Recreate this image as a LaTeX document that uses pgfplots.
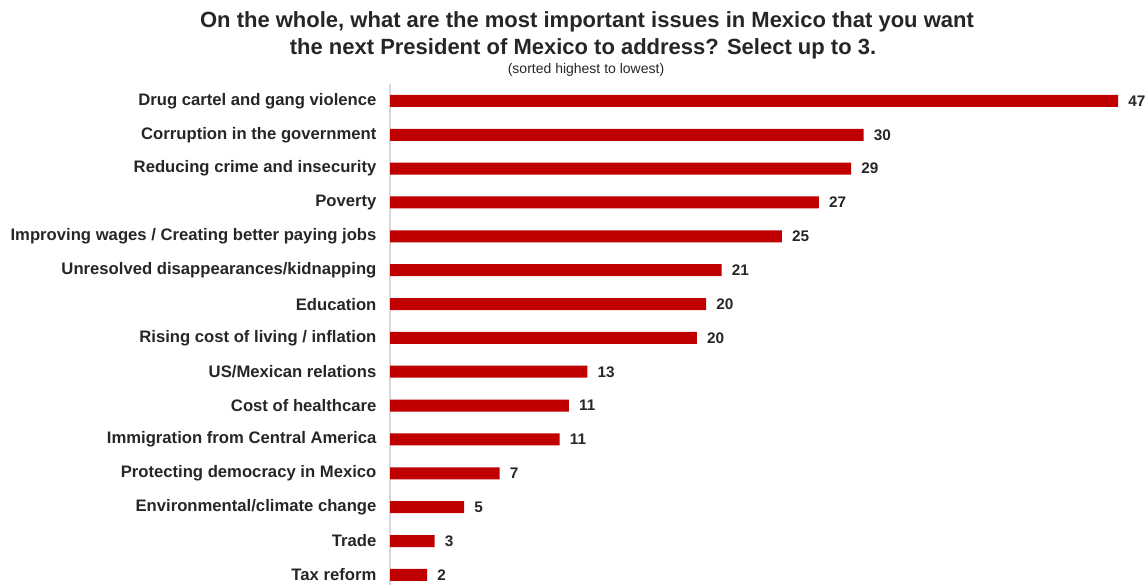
\documentclass[border=0pt]{standalone}
\usepackage{fontspec}
\setmainfont{Liberation Sans}
\usepackage{pgfplots}
\usepackage{pgfplotstable}
\pgfplotsset{compat=1.18}
\definecolor{barred}{HTML}{C00000}
\definecolor{txt}{HTML}{262626}
\pgfplotstableread{
idx val lab
0 47.2 47
1 30.7 30
2 29.9 29
3 27.8 27
4 25.4 25
5 21.5 21
6 20.5 20
7 19.9 20
8 12.8 13
9 11.6 11
10 11.0 11
11 7.1 7
12 4.8 5
13 2.9 3
14 2.4 2
}\datatable
\begin{document}
\begin{tikzpicture}
\useasboundingbox (0,0) rectangle (861pt,440.25pt);
\node[font=\fontsize{16.5}{18}\bfseries\selectfont, text=txt] at (440.25pt,423.75pt) {On the whole, what are the most important issues in Mexico that you want};
\node[font=\fontsize{16.5}{18}\bfseries\selectfont, text=txt] at (437.25pt,403.5pt) {the next President of Mexico to address? Select up to 3.};
\node[font=\fontsize{10.5}{12}\selectfont, text=txt] at (439.5pt,388pt) {(sorted highest to lowest)};
\begin{axis}[
  at={(292.5pt,1.5pt)}, anchor=south west,
  scale only axis, width=546pt, height=375.75pt,
  xbar, bar width=9pt,
  xmin=0, xmax=47.2,
  ymin=-0.5, ymax=14.3, y dir=reverse,
  axis x line=none,
  axis y line=left,
  axis line style={-, draw=black!15, line width=0.8pt},
  major tick length=0pt,
  ytick={0,...,14},
  yticklabels={Drug cartel and gang violence, Corruption in the government, Reducing crime and insecurity, Poverty, Improving wages / Creating better paying jobs, Unresolved disappearances/kidnapping, Education, Rising cost of living / inflation, US/Mexican relations, Cost of healthcare, Immigration from Central America, Protecting democracy in Mexico, Environmental/climate change, Trade, Tax reform},
  yticklabel style={font=\fontsize{12.5}{14}\bfseries\selectfont, text=txt, inner sep=0pt, xshift=-10pt},
  nodes near coords,
  point meta=explicit symbolic,
  nodes near coords style={font=\fontsize{11.5}{13}\bfseries\selectfont, text=txt, anchor=west, inner sep=0pt, xshift=7.5pt},
  clip=false,
]
\addplot[draw=none, fill=barred] table[x=val, y=idx, meta=lab] {\datatable};
\end{axis}
\end{tikzpicture}
\end{document}
